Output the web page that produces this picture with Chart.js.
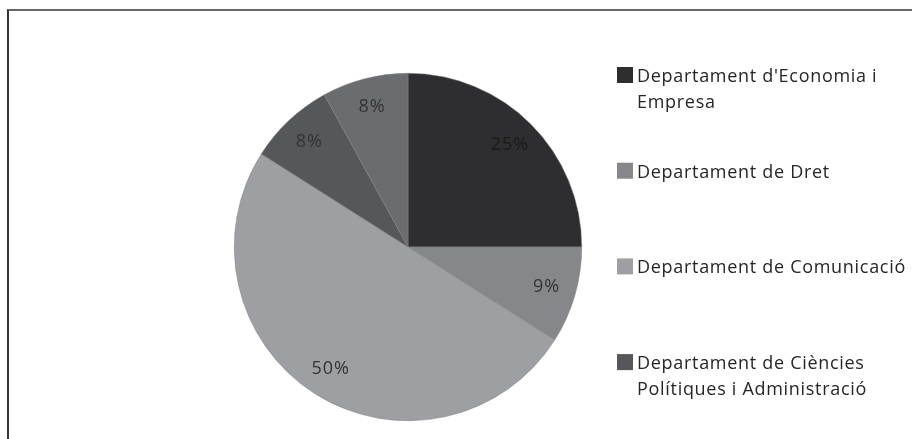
<!DOCTYPE html>
<html>
<head>
<meta charset="utf-8">
<script src="https://cdn.jsdelivr.net/npm/chart.js@4/dist/chart.umd.min.js"></script>
<style>
  html, body { margin: 0; padding: 0; background: #fff; }
  #wrap { position: relative; width: 912px; height: 439px; overflow: hidden; }
  #frame {
    position: absolute; left: 7px; top: 9px; width: 1000px; height: 500px;
    border-top: 2px solid #666; border-left: 2px solid #333;
  }
  canvas { position: absolute; left: 0; top: 0; }
</style>
</head>
<body>
<div id="wrap">
  <div id="frame"></div>
  <canvas id="pie" width="912" height="439"></canvas>
</div>
<script>
// departments (legend lines), share of each one and slice colours
const departaments = [
    ["Departament d'Economia i", "Empresa"],
    ["Departament de Dret"],
    ["Departament de Comunicació"],
    ["Departament de Ciències", "Polítiques i Administració"],
    [""]
];
const percentatges = [25, 9, 50, 8, 8];
const colors = ['#2e2d2f', '#86878b', '#9e9fa3', '#56575b', '#6b6c70'];

const FONT = '"Open Sans", "DejaVu Sans", sans-serif';

// percentage text inside each slice
const sliceLabels = {
    id: 'sliceLabels',
    afterDatasetsDraw(chart) {
        const ctx = chart.ctx;
        const meta = chart.getDatasetMeta(0);
        ctx.save();
        ctx.font = '18px ' + FONT;
        ctx.letterSpacing = '1px';
        ctx.textAlign = 'center';
        ctx.textBaseline = 'middle';
        meta.data.forEach((arc, i) => {
            const { x, y, startAngle, endAngle, outerRadius } =
                arc.getProps(['x', 'y', 'startAngle', 'endAngle', 'outerRadius'], true);
            const mid = (startAngle + endAngle) / 2;
            const r = outerRadius * 0.83;
            ctx.fillStyle = i === 0 ? '#1a1a1a' : '#333';
            ctx.fillText(percentatges[i] + '%', x + Math.cos(mid) * r, y + Math.sin(mid) * r);
        });
        ctx.restore();
    }
};

// legend on the right, with wrapped names
const sideLegend = {
    id: 'sideLegend',
    afterDraw(chart) {
        const ctx = chart.ctx;
        const ds = chart.data.datasets[0];
        ctx.save();
        ctx.font = '18px ' + FONT;
        ctx.letterSpacing = '0.7px';
        ctx.textAlign = 'left';
        ctx.textBaseline = 'alphabetic';
        let row = 0;
        departaments.forEach((lines, i) => {
            if (!lines[0]) return;
            const base = 82 + row * 95.7;
            ctx.fillStyle = ds.backgroundColor[i];
            ctx.fillRect(617, base - 15, 16, 16);
            ctx.fillStyle = '#262626';
            lines.forEach((t, j) => ctx.fillText(t, 637, base + j * 26));
            row++;
        });
        ctx.restore();
    }
};

new Chart(document.getElementById('pie'), {
    type: 'pie',
    data: {
        labels: departaments.map(l => l.join(' ')),
        datasets: [{
            data: percentatges,
            backgroundColor: colors,
            borderColor: '#808084',
            borderWidth: 0.5
        }]
    },
    options: {
        responsive: false,
        animation: false,
        layout: { padding: { left: 234, right: 330, top: 73, bottom: 18 } },
        plugins: {
            legend: { display: false },
            tooltip: { enabled: false }
        }
    },
    plugins: [sliceLabels, sideLegend]
});
</script>
</body>
</html>
